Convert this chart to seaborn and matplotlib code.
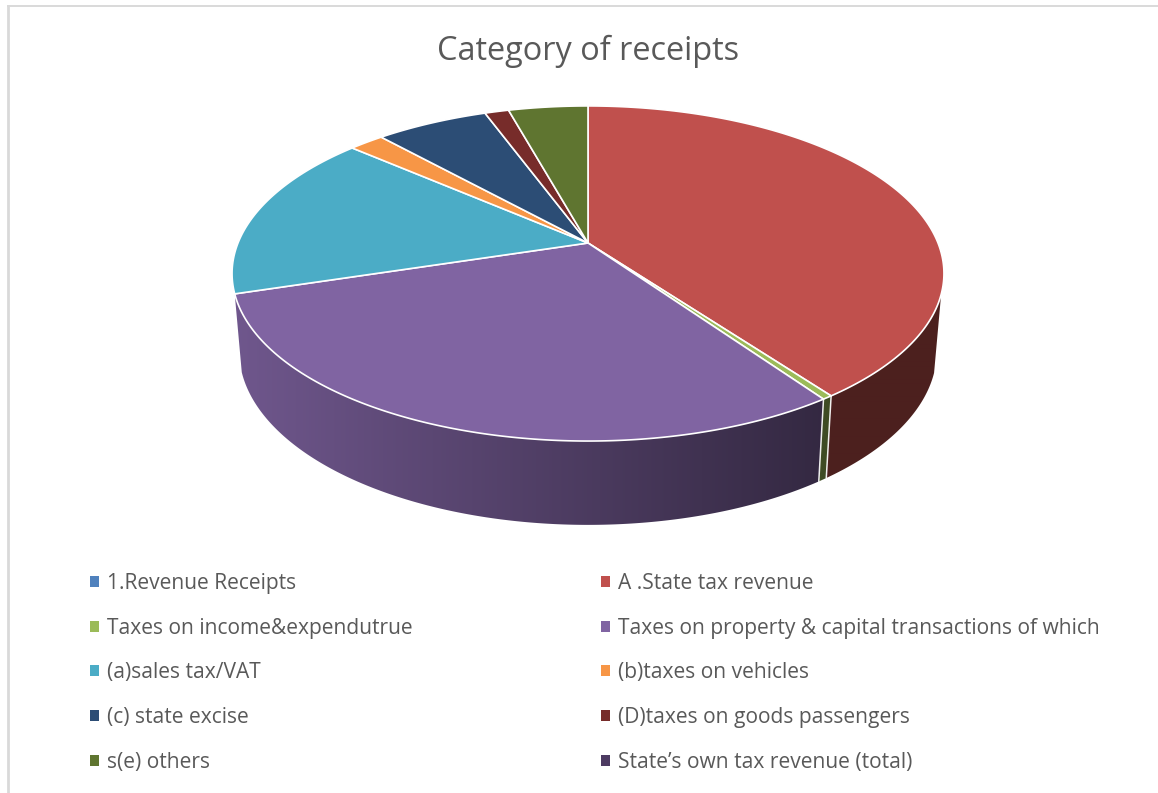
import numpy as np
import matplotlib
matplotlib.use("Agg")
import matplotlib.pyplot as plt
from matplotlib.patches import Patch, Polygon
import seaborn as sns

title = "Category of receipts"
categories = [
    "1.Revenue Receipts", "A .State tax revenue",
    "Taxes on income&expendutrue", "Taxes on property & capital transactions of which",
    "(a)sales tax/VAT", "(b)taxes on vehicles",
    "(c) state excise", "(D)taxes on goods passengers",
    "s(e) others", "State\u2019s own tax revenue (total)",
]
shares = [0.0, 39.9, 0.4, 29.9, 16.2, 1.9, 6.1, 1.3, 4.3, 0.0]
slice_colors = ["#4F81BD", "#C0504D", "#9BBB59", "#8064A2", "#4BACC6",
                "#F79646", "#2C4D75", "#772C2A", "#5F7530", "#4D3B62"]

sns.set_theme(style="white")
plt.rcParams["font.family"] = ["Open Sans", "DejaVu Sans"]
palette = sns.color_palette(slice_colors)

W, H = 1158, 793
fig = plt.figure(figsize=(W / 100, H / 100), dpi=100, facecolor="white")
ax = fig.add_axes([0, 0, 1, 1])
ax.axis("off")

# Projection of the pie disc: angle runs clockwise from twelve o'clock.
CX, PERSP = 588.0, 0.182
WALL_FROM, WALL_TO = np.deg2rad(107.5), np.deg2rad(252.7)


def rim(theta, level="top", radius=1.0):
    u, v = radius * np.sin(theta), radius * np.cos(theta)
    w = 1 + PERSP * v
    if level == "top":
        return CX + 350 * u / w, 243 - 162 * v / w
    return CX + 343 * u / w, 319.5 - 168 * v / w


def wall_shade(x):
    return np.interp(x, [234, 420, 830], [0.87, 0.72, 0.40])


edges = np.deg2rad(np.cumsum([0.0] + shares) * 3.6)
edges[-1] = np.deg2rad(360.0)

# Side wall: a horizontal shading ramp clipped to each slice's outline.
ramp_x = np.arange(225, 950)
for start, end, col, val in zip(edges[:-1], edges[1:], palette, shares):
    lo, hi = max(start, WALL_FROM), min(end, WALL_TO)
    if val <= 0 or hi <= lo:
        continue
    t = np.linspace(lo, hi, 240)
    xt, yt = rim(t)
    xl, yl = rim(t, "low")
    outline = Polygon(np.c_[np.r_[xt, xl[::-1]], np.r_[yt, yl[::-1]]],
                      closed=True, transform=ax.transData, facecolor="none", edgecolor="none")
    ax.add_patch(outline)
    ramp = np.clip(np.array(col)[None, None, :] * wall_shade(ramp_x)[None, :, None], 0, 1)
    img = ax.imshow(ramp, extent=(225, 950, 540, 260), aspect="auto",
                    interpolation="bilinear", zorder=2)
    img.set_clip_path(outline)

ax.set_xlim(0, W)
ax.set_ylim(H, 0)

# White seams between wall segments on the visible front side.
for boundary in edges[1:-1]:
    if WALL_FROM < boundary < WALL_TO - 0.01:
        xt, yt = rim(boundary)
        xl, yl = rim(boundary, "low")
        ax.plot([xt, xl], [yt, yl], color="white", lw=1.1, alpha=0.9, zorder=3)

# Top face of the pie.
hub_x, hub_y = rim(0.0, radius=0.0)
for start, end, col, val in zip(edges[:-1], edges[1:], palette, shares):
    if val <= 0:
        continue
    t = np.linspace(start, end, max(3, int(np.degrees(end - start) * 2) + 1))
    xs, ys = rim(t)
    ax.fill(np.r_[hub_x, xs], np.r_[hub_y, ys], facecolor=col, edgecolor="white",
            linewidth=1.2, joinstyle="round", zorder=4)

# Chart frame, visible along the left and top.
ax.plot([8, 8], [5, H], color="#d9d9d9", lw=2.0, solid_capstyle="butt", zorder=1)
ax.plot([7, W], [6, 6], color="#d9d9d9", lw=1.4, solid_capstyle="butt", zorder=1)

ax.text(588, 51, title, ha="center", va="center", color="#595959", fontsize=23.4)

handles = [Patch(facecolor=c, edgecolor="none") for c in palette]
# Legend entries read row by row across the two columns.
order = list(range(0, 10, 2)) + list(range(1, 10, 2))
ax.legend([handles[i] for i in order], [categories[i] for i in order], ncol=2, frameon=False,
          loc="upper left", bbox_to_anchor=(90 / W, 1 - 573 / H),
          bbox_transform=fig.transFigure, borderaxespad=0, borderpad=0,
          fontsize=15.12, labelcolor="#595959", handlelength=0.43, handleheight=0.43,
          handletextpad=0.38, labelspacing=1.13, columnspacing=8.98)

fig.savefig("out.png", dpi=100, facecolor="white")
